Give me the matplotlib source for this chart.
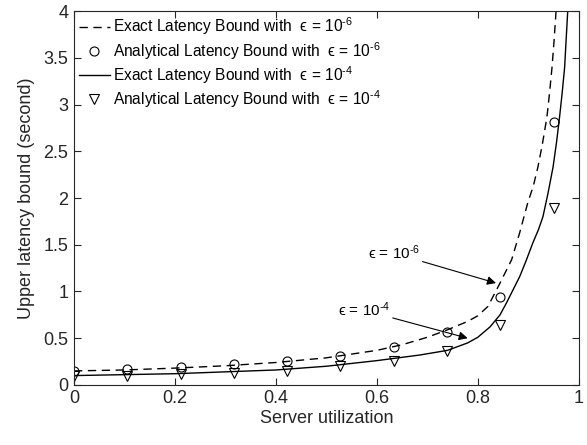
import matplotlib
matplotlib.use("Agg")
import matplotlib.pyplot as plt

# --- DATA ---

util_pts = [0, 0.1056, 0.2111, 0.3167, 0.4222, 0.5278, 0.6333, 0.7389, 0.8444, 0.95]
analytic_e6 = [0.15, 0.17, 0.19, 0.22, 0.26, 0.31, 0.41, 0.57, 0.94, 2.81]
analytic_e4 = [0.10, 0.10, 0.12, 0.13, 0.15, 0.20, 0.26, 0.36, 0.64, 1.89]

exact_e6_x = [0, 0.1, 0.2, 0.3, 0.4, 0.5, 0.6, 0.65, 0.7, 0.74, 0.78, 0.8, 0.82,
              0.844, 0.867, 0.883, 0.899, 0.91, 0.919, 0.928, 0.937, 0.942,
              0.947, 0.951, 0.955, 0.962]
exact_e6_y = [0.15, 0.16, 0.18, 0.205, 0.24, 0.29, 0.37, 0.43, 0.51, 0.59, 0.68,
              0.74, 0.84, 1.09, 1.34, 1.63, 1.95, 2.13, 2.33, 2.58, 2.87, 3.12,
              3.40, 3.68, 4.0, 4.6]

exact_e4_x = [0, 0.1, 0.2, 0.3, 0.4, 0.5, 0.6, 0.685, 0.74, 0.78, 0.8, 0.824,
              0.844, 0.857, 0.883, 0.895, 0.909, 0.92, 0.929, 0.939, 0.949,
              0.956, 0.962, 0.967, 0.972, 0.975, 0.978, 0.985]
exact_e4_y = [0.10, 0.11, 0.12, 0.14, 0.16, 0.20, 0.26, 0.32, 0.37, 0.45, 0.51,
              0.62, 0.75, 0.88, 1.16, 1.32, 1.52, 1.66, 1.80, 2.05, 2.33,
              2.60, 2.87, 3.12, 3.40, 3.70, 3.99, 4.6]

x_ticks = [0, 0.2, 0.4, 0.6, 0.8, 1]
x_labels = ["0", "0.2", "0.4", "0.6", "0.8", "1"]
y_ticks = [0, 0.5, 1, 1.5, 2, 2.5, 3, 3.5, 4]
y_labels = ["0", "0.5", "1", "1.5", "2", "2.5", "3", "3.5", "4"]

EPS6 = "\u03f5 = 10$^{\\mathregular{\u2010}\\mathregular{6}}$"
EPS4 = "\u03f5 = 10$^{\\mathregular{\u2010}\\mathregular{4}}$"

# --- STYLE ---

plt.rcParams["font.family"] = ["Liberation Sans", "DejaVu Sans"]
plt.rcParams["mathtext.fontset"] = "custom"
plt.rcParams["mathtext.rm"] = "Liberation Sans"
plt.rcParams["mathtext.it"] = "Liberation Sans:italic"

AX_COLOR = "#262626"

fig = plt.figure(figsize=(5.87, 4.45), dpi=100)
ax = fig.add_axes([0.126, 0.135, 0.86, 0.84])

ax.plot(exact_e6_x, exact_e6_y, "k--", lw=1.0, dashes=(6, 4),
        label="Exact Latency Bound with  " + EPS6)
ax.plot(util_pts, analytic_e6, "o", mfc="none", mec="k", ms=6.5, mew=0.8,
        label="Analytical Latency Bound with  " + EPS6)
ax.plot(exact_e4_x, exact_e4_y, "k-", lw=1.0,
        label="Exact Latency Bound with  " + EPS4)
ax.plot(util_pts, analytic_e4, "v", mfc="none", mec="k", ms=7, mew=0.8,
        label="Analytical Latency Bound with  " + EPS4)

# annotations with arrows
arrow = dict(arrowstyle="-|>", color="k", lw=0.8, mutation_scale=13,
             shrinkA=0, shrinkB=0)
ax.annotate(EPS6, xy=(0.836, 1.09), xytext=(0.685, 1.41), fontsize=11,
            ha="right", va="center", arrowprops=arrow)
ax.annotate(EPS4, xy=(0.78, 0.50), xytext=(0.626, 0.80), fontsize=11,
            ha="right", va="center", arrowprops=arrow)

ax.set_xlim(0, 1)
ax.set_ylim(0, 4)
ax.set_xticks(x_ticks)
ax.set_xticklabels(x_labels)
ax.set_yticks(y_ticks)
ax.set_yticklabels(y_labels)
ax.tick_params(direction="in", length=5, width=0.8, top=True, right=True,
               labelsize=13, colors=AX_COLOR, pad=4)
for s in ax.spines.values():
    s.set_color(AX_COLOR)
    s.set_linewidth(0.8)

ax.set_xlabel("Server utilization", fontsize=13, color=AX_COLOR, labelpad=2)
ax.set_ylabel("Upper latency bound (second)", fontsize=13, color=AX_COLOR,
              labelpad=6)

ax.legend(loc="upper left", frameon=False, fontsize=11.2, handlelength=2.0,
          handletextpad=0.2, labelspacing=0.15, borderaxespad=0.1,
          borderpad=0.2)

fig.savefig("out.png", dpi=100)
